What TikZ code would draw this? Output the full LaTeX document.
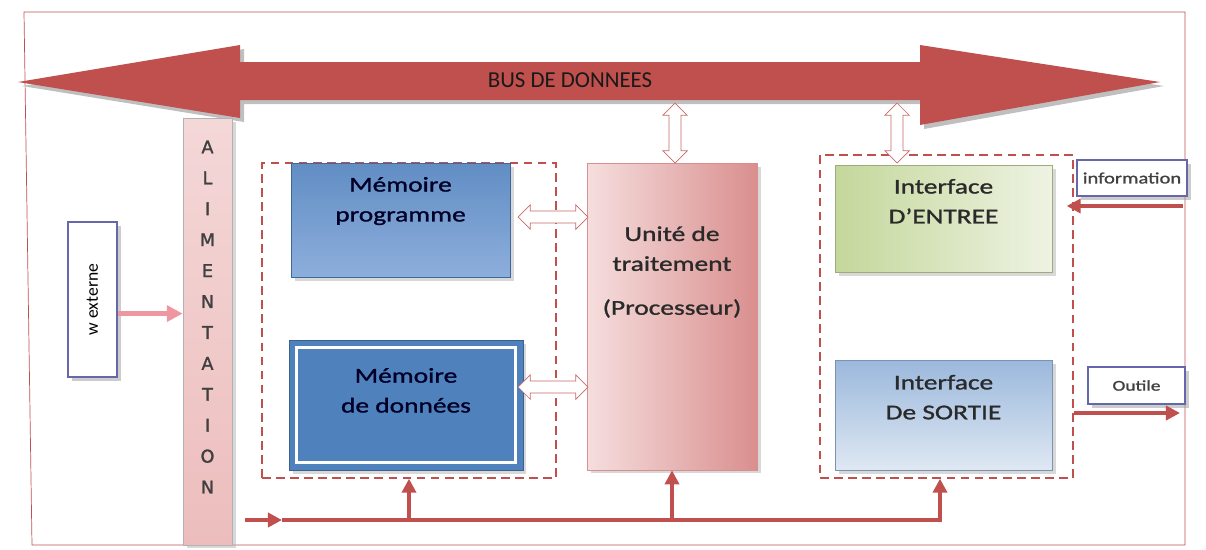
\documentclass[tikz,border=0pt]{standalone}
\usepackage{fontspec}
\setmainfont{Carlito}
\newfontfamily\boxfont{Carlito}[FakeStretch=1.3, FakeBold=1.2]
\newfontfamily\alimfont{DejaVu Sans}[FakeBold=1.5]
\usetikzlibrary{positioning,shapes.arrows,shadows,arrows.meta}

\definecolor{busred}{HTML}{C0504D}
\definecolor{alimpink}{HTML}{EDBDBD}
\definecolor{memblue}{HTML}{4F81BD}
\definecolor{memlight}{HTML}{8DAEDC}
\definecolor{unitlight}{HTML}{F6DEDE}
\definecolor{unitdark}{HTML}{D98F8E}
\definecolor{ingreen}{HTML}{C4D79B}
\definecolor{inlight}{HTML}{EEF3E2}
\definecolor{outblue}{HTML}{9BB8DC}
\definecolor{outlight}{HTML}{DFE8F3}
\definecolor{txtgray}{HTML}{2A2A2A}
\definecolor{powpink}{HTML}{EE97A0}

\tikzset{
  bloc/.style={rectangle, draw=#1, inner sep=0pt,
    drop shadow={shadow xshift=2pt, shadow yshift=-2pt, fill=black!30}},
  bloc/.default=black!50,
  boxtext/.style={font=\boxfont\fontsize{12}{17}\selectfont, text=txtgray, align=center, inner sep=0pt},
  dashzone/.style={rectangle, draw=busred, thick, dash pattern=on 5pt off 3pt, inner sep=0pt},
  hollow/.style={double arrow, draw=busred!85, fill=white, inner sep=3.2pt,
    minimum width=14pt, double arrow head extend=3.5pt},
  labelbox/.style={rectangle, draw=black!55!blue!60, thick, fill=white, inner sep=0pt,
    drop shadow={shadow xshift=2pt, shadow yshift=-2pt, fill=black!40}},
  power/.style={busred, line width=2pt, -{Triangle[length=8pt,width=8pt]}}
}

\begin{document}
\begin{tikzpicture}[x=0.02cm,y=-0.02cm]
        \useasboundingbox (0,0) rectangle (1206,549);
        \draw [busred] (24,12) -- (1185,12) -- (1185,545) -- (32,545) -- cycle;

        \fill [black!25] (22,86) -- (244,49) -- (244,66) -- (924,66) -- (924,49) -- (1164,86) -- (924,129) -- (924,104) -- (244,104) -- (244,122) -- cycle;
        \fill [busred] (18,82) -- (240,45) -- (240,62) -- (920,62) -- (920,45) -- (1160,82) -- (920,125) -- (920,100) -- (240,100) -- (240,118) -- cycle;
        \node [font=\fontsize{13}{15}\selectfont, text=black!90] at (570,80) (bus){BUS DE DONNEES};

        \node [bloc=black!30, top color=alimpink!60, bottom color=alimpink, minimum width=0.98cm, minimum height=8.54cm] at (207.5,331.5) (alim){};
        \node [font=\alimfont\fontsize{10}{17.6}\selectfont, align=center, text=black!75, inner sep=0pt] at (207.5,317) (alimtxt){A\\L\\I\\M\\E\\N\\T\\A\\T\\I\\O\\N};

        \node [labelbox, rotate=90, minimum width=3.1cm, minimum height=0.98cm, font=\fontsize{10}{12}\selectfont] at (92.5,299.5) (wext){w externe};
        \draw [powpink, line width=2.5pt, -{Triangle[length=9pt,width=9pt]}] ([yshift=-8pt]wext.south) -- ([yshift=-8pt]wext.south -| alim.west);

        \node [dashzone, minimum width=5.88cm, minimum height=6.3cm] at (409,320.5) (memzone){};
        \node [dashzone, minimum width=5.06cm, minimum height=6.46cm] at (946.5,316.5) (iozone){};

        \node [bloc=memblue!80!black, top color=memblue!90, middle color=memblue!88!black, bottom color=memlight, minimum width=4.38cm, minimum height=2.28cm] at (400.5,220) (mprog){};
        \node [boxtext, text=black!85!blue, below=8pt of mprog.north] (mprogtxt){Mémoire\\programme};

        \node [bloc=memblue!75!black, fill=memblue, minimum width=4.68cm, minimum height=2.6cm] at (406,405) (mdon){};
        \draw [white, line width=1.8pt] ([shift={(8,8)}]mdon.north west) rectangle ([shift={(-8,-8)}]mdon.south east);
        \node [boxtext, text=black!85!blue, below=16pt of mdon.north] (mdontxt){Mémoire\\de données};

        \node [bloc=unitdark, left color=unitlight, right color=unitdark, minimum width=3.4cm, minimum height=6.14cm] at (672,316.5) (unite){};
        \node [boxtext, below=36pt of unite.north] (unitetxt){Unité de\\traitement\\[8pt](Processeur)};

        \node [bloc=ingreen!80!black, left color=ingreen, right color=inlight, minimum width=4.34cm, minimum height=2.14cm] at (943.5,218.5) (entree){};
        \node [boxtext, below=8pt of entree.north] (entreetxt){Interface\\D’ENTREE};

        \node [bloc=outblue!80!black, top color=outblue, bottom color=outlight, minimum width=4.34cm, minimum height=2.2cm] at (943.5,415) (sortie){};
        \node [boxtext, below=8.5pt of sortie.north] (sortietxt){Interface\\De SORTIE};

        \node [hollow, minimum height=1.4cm] at (553,217) (hprog){};
        \node [hollow, minimum height=1.4cm] at (553,387) (hdon){};
        \node [hollow, rotate=90, minimum height=1.2cm] at (675,133) (vunite){};
        \node [hollow, rotate=90, minimum height=1.2cm] at (897,133) (ventree){};

        \node [labelbox, minimum width=2.2cm, minimum height=0.72cm, font=\boxfont\fontsize{9}{11}\selectfont, text=black!75] at (1132,178) (info){information};
        \node [labelbox, minimum width=1.94cm, minimum height=0.74cm, font=\boxfont\fontsize{8.5}{10}\selectfont, text=black!75] at (1136.5,385.5) (outile){Outile};

        \coordinate (infoin) at (1183,206);
        \coordinate (outout) at (1180,413);
        \draw [power] (infoin) -- ([xshift=-4pt]iozone.east |- infoin);
        \draw [power] (iozone.east |- outout) -- (outout);

        \coordinate (pin) at (245,520);
        \coordinate (pmid) at (282,520);
        \coordinate (pend) at (940,520);
        \draw [power] (pin) -- (pmid);
        \draw [power] (pmid) -- (pend) -- (pend |- iozone.south);
        \draw [power] (memzone.south |- pin) -- (memzone.south);
        \draw [power] (unite.south |- pin) -- (unite.south);
      \end{tikzpicture}
\end{document}
